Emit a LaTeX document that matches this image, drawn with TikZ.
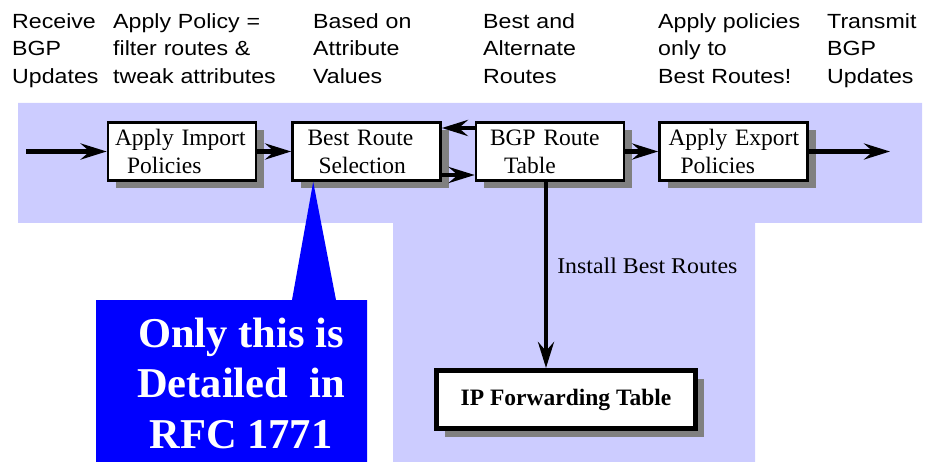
\documentclass[tikz,border=0pt]{standalone}
\usepackage{fontspec}
\setmainfont{Liberation Serif}
\newfontfamily\labelsans[FakeStretch=1.13]{Liberation Sans}
\newfontfamily\wideserif[FakeStretch=1.06]{Liberation Serif}
\usetikzlibrary{arrows.meta,shadows,calc}
\definecolor{bandcol}{HTML}{CCCCFF}
\definecolor{calloutblue}{HTML}{0000FF}
\definecolor{shadowgray}{HTML}{808080}
\begin{document}
\begin{tikzpicture}[x=1pt,y=-1pt,
  topnote/.style={anchor=base west, inner sep=0pt, text width=220pt, align=left,
    font=\labelsans\fontsize{20.5}{27.5}\selectfont},
  procbox/.style={draw=black, line width=2.6pt, fill=white, minimum width=148pt,
    minimum height=58pt, text width=148pt, inner xsep=0pt, inner ysep=0pt, align=left,
    font=\fontsize{23.5}{28}\selectfont,
    general shadow={shadow xshift=8pt, shadow yshift=-8pt, fill=shadowgray, draw=none}},
  fwdbox/.style={draw=black, line width=5pt, fill=white, minimum width=259pt,
    minimum height=58pt, inner sep=0pt, align=center,
    font=\bfseries\fontsize{23.5}{28}\selectfont,
    general shadow={shadow xshift=8pt, shadow yshift=-8pt, fill=shadowgray, draw=none}},
  flow/.style={line width=4.5pt, -{Stealth[length=26pt,width=16pt,inset=9pt]}},
  calltext/.style={text=white, inner sep=0pt, align=center,
    font=\bfseries\fontsize{42.5}{50.5}\selectfont},
  edgelabel/.style={inner sep=0pt, font=\wideserif\fontsize{22.5}{27}\selectfont}
]
\useasboundingbox (0,0) rectangle (925,462);

% lavender T-shaped background
\fill[bandcol] (18,103) -- (922,103) -- (922,223) -- (755,223) -- (755,462)
  -- (393,462) -- (393,223) -- (18,223) -- cycle;

% top annotations
\node[topnote] (n1) at (12,28.3) {Receive\\BGP\\Updates};
\node[topnote] (n2) at (113,28.3) {Apply Policy =\\filter routes \&\\tweak attributes};
\node[topnote] (n3) at (313,28.3) {Based on\\Attribute\\Values};
\node[topnote] (n4) at (483,28.3) {Best and\\Alternate\\Routes};
\node[topnote] (n5) at (658,28.3) {Apply policies\\only to\\Best Routes!};
\node[topnote] (n6) at (827,28.3) {Transmit\\BGP\\Updates};

% process boxes
\node[procbox] (imp) at (182,151.5) {\hspace*{7pt}Apply Import\\\hspace*{19pt}Policies};
\node[procbox] (best) at (366.5,151.5) {\hspace*{15pt}Best Route\\\hspace*{26pt}Selection};
\node[procbox] (bgp) at (550,151.5) {\hspace*{14pt}BGP Route\\\hspace*{28pt}Table};
\node[procbox] (exp) at (733.5,151.5) {\hspace*{9pt}Apply Export\\\hspace*{21pt}Policies};
\node[fwdbox] (ipf) at (566,399.5) {IP Forwarding Table};

\coordinate (inp) at (26,151.5);
\coordinate (outp) at (890,151.5);

% connectors
\draw[flow] (inp) -- (imp.west);
\draw[flow] (imp.east) -- (best.west);
\draw[flow] ([yshift=23.5pt]bgp.west) -- ([yshift=23.5pt]best.east);
\draw[flow] ([yshift=-23.5pt]best.east) -- ([yshift=-23.5pt]bgp.west);
\draw[flow] (bgp.east) -- (exp.west);
\draw[flow] (exp.east) -- (outp);
\draw[flow] ([xshift=-4pt]bgp.south) -- ([xshift=-4pt]bgp.south |- ipf.north)
  node[edgelabel, pos=0.49, anchor=base west, xshift=9pt] (lbl) {Install Best Routes};

% callout
\fill[calloutblue] (96,300) -- (292,300) -- ([xshift=22pt]best.south west) -- (336,300)
  -- (367,300) -- (367,462) -- (96,462) -- cycle;
\node[calltext] (note) at (241,383) {Only this is\\Detailed\ \ in\\RFC 1771};
\end{tikzpicture}
\end{document}
